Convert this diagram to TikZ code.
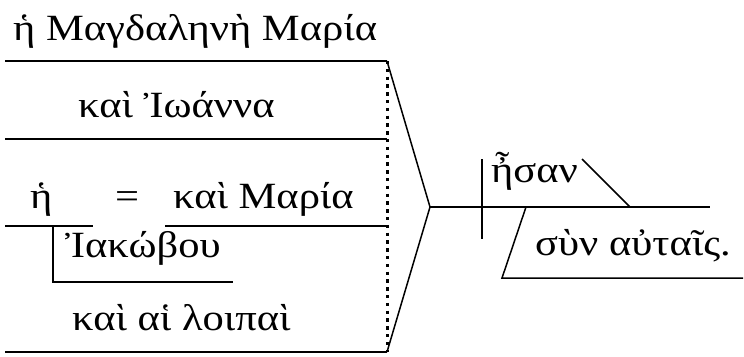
\documentclass[tikz,border=0pt]{standalone}
\usepackage{fontspec}
\setmainfont[FakeStretch=1.15]{Liberation Serif}
\begin{document}
\begin{tikzpicture}[x=1pt,y=-1pt,
  rule/.style={line width=1.5pt},
  dotrule/.style={line width=3pt, dash pattern=on 3.4pt off 4.4pt},
  word/.style={inner sep=0pt, anchor=base west, font=\fontsize{37}{40}\selectfont}]
\useasboundingbox (0,0) rectangle (744,356);
% subject lines
\coordinate (t1l) at (5,61);  \coordinate (t1r) at (387,61);
\coordinate (t2l) at (5,139); \coordinate (t2r) at (387,139);
\coordinate (t3l) at (5,226); \coordinate (t3m) at (93,226);
\coordinate (t3n) at (165,226); \coordinate (t3r) at (387,226);
\coordinate (t4l) at (5,352); \coordinate (t4r) at (387,352);
\coordinate (gv) at (53,226); \coordinate (gc) at (53,282); \coordinate (gr) at (233,282);
% predicate
\coordinate (v) at (430,207);
\coordinate (bend) at (710,207);
\coordinate (dtop) at (482,159); \coordinate (dbot) at (482,239);
\coordinate (a1) at (582,159); \coordinate (a2) at (630,207);
\coordinate (p1) at (526,207); \coordinate (p2) at (502,278); \coordinate (p3) at (743,278);
% words
\node[word] (w1) at (13,40) {ἡ Μαγδαληνὴ Μαρία};
\node[word] (w2) at (78,117) {καὶ Ἰωάννα};
\node[word] (w3) at (30,208) {ἡ};
\node[word] (w4) at (115,208) {=};
\node[word] (w5) at (173,208) {καὶ Μαρία};
\node[word] (w6) at (65,257) {Ἰακώβου};
\node[word] (w7) at (72,330) {καὶ αἱ λοιπαὶ};
\node[word] (w8) at (491,182) {ἦσαν};
\node[word] (w9) at (535,255) {σὺν αὐταῖς.};
% lines
\draw[rule] (t1l) -- (t1r);
\draw[rule] (t2l) -- (t2r);
\draw[rule] (t3l) -- (t3m);
\draw[rule] (t3n) -- (t3r);
\draw[rule] (t4l) -- (t4r);
\draw[rule] (gv) -- (gc) -- (gr);
\draw[dotrule] (t1r) -- (t4r);
\draw[rule] (t1r) -- (v) -- (t4r);
\draw[rule] (v) -- (bend);
\draw[rule] (dtop) -- (dbot);
\draw[rule] (a1) -- (a2);
\draw[rule] (p1) -- (p2) -- (p3);
\end{tikzpicture}
\end{document}
